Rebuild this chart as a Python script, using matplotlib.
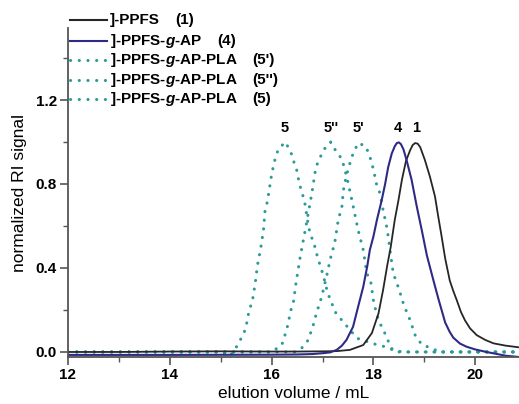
import numpy as np
import matplotlib.pyplot as plt
from matplotlib.ticker import MultipleLocator
from matplotlib.lines import Line2D

plt.rcParams['font.family'] = 'Liberation Sans'
plt.rcParams['mathtext.fontset'] = 'custom'
plt.rcParams['mathtext.rm'] = 'Liberation Sans:bold'
plt.rcParams['mathtext.it'] = 'Liberation Sans:bold:italic'

# curve 1: ]-PPFS
x1 = [12, 13, 14, 15, 16, 16.5, 17, 17.28, 17.54, 17.80, 17.97, 18.10, 18.19, 18.27, 18.34,
      18.42, 18.49, 18.56, 18.64, 18.72, 18.77, 18.82, 18.87, 18.92, 19.01, 19.11, 19.21,
      19.27, 19.34, 19.41, 19.50, 19.57, 19.64, 19.72, 19.80, 19.90, 20.03, 20.20, 20.36,
      20.60, 20.86]
y1 = [0.0, 0.0, 0.002, 0.003, 0.002, 0.002, 0.003, 0.004, 0.01, 0.033, 0.09, 0.184, 0.295,
      0.41, 0.50, 0.63, 0.72, 0.82, 0.91, 0.96, 0.985, 0.995, 0.992, 0.975, 0.915, 0.835,
      0.74, 0.65, 0.55, 0.445, 0.34, 0.29, 0.245, 0.19, 0.15, 0.112, 0.08, 0.057, 0.041,
      0.030, 0.022]

# curve 4: ]-PPFS-g-AP
x4 = [12, 14, 16, 16.5, 16.8, 17.0, 17.15, 17.28, 17.38, 17.47, 17.60, 17.70, 17.80, 17.88,
      17.93, 18.00, 18.07, 18.16, 18.23, 18.29, 18.36, 18.42, 18.46, 18.50, 18.54, 18.59,
      18.65, 18.75, 18.85, 18.95, 19.05, 19.18, 19.28, 19.41, 19.50, 19.57, 19.70, 19.83,
      20.00, 20.22, 20.60, 20.86]
y4 = [-0.014, -0.014, -0.013, -0.012, -0.01, -0.006, -0.002, 0.01, 0.03, 0.057, 0.12, 0.216,
      0.31, 0.41, 0.486, 0.55, 0.63, 0.72, 0.80, 0.88, 0.945, 0.98, 0.995, 0.998, 0.99,
      0.965, 0.915, 0.82, 0.695, 0.58, 0.46, 0.34, 0.25, 0.14, 0.095, 0.068, 0.04, 0.025,
      0.012, 0.0, -0.018, -0.024]

# curve 5': ]-PPFS-g-AP-PLA
x5a = [12, 14, 16.0, 16.45, 16.59, 16.72, 16.83, 16.88, 16.98, 17.08, 17.15, 17.24, 17.31,
       17.38, 17.41, 17.47, 17.54, 17.60, 17.70, 17.85, 17.93, 18.00, 18.06, 18.13, 18.19,
       18.26, 18.29, 18.34, 18.39, 18.46, 18.51, 18.56, 18.62, 18.72, 18.82, 18.95, 19.14,
       19.3, 20, 20.86]
y5a = [0, 0, 0, 0.0, 0.018, 0.057, 0.137, 0.184, 0.26, 0.36, 0.44, 0.52, 0.63, 0.69, 0.77,
       0.84, 0.90, 0.945, 0.995, 0.98, 0.93, 0.87, 0.80, 0.755, 0.676, 0.597, 0.55, 0.46,
       0.375, 0.327, 0.295, 0.25, 0.21, 0.152, 0.08, 0.035, 0.018, 0, 0, 0]

# curve 5'': ]-PPFS-g-AP-PLA
x5b = [12, 14, 16.0, 16.20, 16.30, 16.38, 16.43, 16.48, 16.56, 16.66, 16.79, 16.87, 16.94,
       17.03, 17.16, 17.28, 17.38, 17.43, 17.48, 17.58, 17.70, 17.80, 17.87, 17.95, 18.01,
       18.10, 18.19, 18.26, 18.33, 18.42, 19, 20, 20.86]
y5b = [0, 0, 0, 0.033, 0.11, 0.20, 0.24, 0.33, 0.45, 0.58, 0.755, 0.88, 0.92, 0.965, 1.0,
       0.95, 0.92, 0.875, 0.83, 0.72, 0.58, 0.486, 0.375, 0.33, 0.23, 0.152, 0.105, 0.073,
       0.025, 0.0, 0, 0, 0]

# curve 5: ]-PPFS-g-AP-PLA
x5 = [12, 13, 14, 15, 15.18, 15.30, 15.42, 15.49, 15.56, 15.62, 15.68, 15.72, 15.79, 15.84,
      15.87, 15.92, 15.99, 16.03, 16.07, 16.13, 16.27, 16.38, 16.43, 16.49, 16.53, 16.57,
      16.62, 16.66, 16.71, 16.75, 16.84, 16.91, 16.97, 17.02, 17.07, 17.12, 17.25, 17.40,
      17.54, 17.68, 17.87, 18.06, 18.23, 18.42, 18.6, 19, 19.5, 20, 20.5, 20.86]
y5 = [0, 0, 0, 0, -0.02, 0.02, 0.073, 0.11, 0.20, 0.24, 0.33, 0.41, 0.50, 0.58, 0.67, 0.72,
      0.83, 0.88, 0.92, 0.965, 1.0, 0.95, 0.91, 0.87, 0.82, 0.78, 0.74, 0.70, 0.62, 0.57,
      0.51, 0.445, 0.40, 0.36, 0.31, 0.27, 0.19, 0.145, 0.105, 0.065, 0.05, 0.035, 0.025,
      0.006, 0, 0, 0, 0, 0, 0]

peak_labels = ['5', "5''", "5'", '4', '1']
peak_x = [16.26, 17.17, 17.70, 18.48, 18.84]

legend_names = [']-PPFS', r']-PPFS-$\mathit{g}$-AP', r']-PPFS-$\mathit{g}$-AP-PLA',
                r']-PPFS-$\mathit{g}$-AP-PLA', r']-PPFS-$\mathit{g}$-AP-PLA']
legend_tags = ['(1)', '(4)', "(5')", "(5'')", '(5)']

black = '#262626'
blue = '#2e2a86'
teal = '#2a9a9a'

W, H = 519, 404
fig = plt.figure(figsize=(W / 100, H / 100), dpi=100)
ax = fig.add_axes([68 / W, 1 - 357 / H, (W - 68) / W, (357 - 28) / H])

dots = (0, (0.05, 2.8))
dot_kw = dict(color=teal, lw=2.2, ls=dots, dash_capstyle='round')
ax.plot(x5, y5, **dot_kw)
ax.plot(x5b, y5b, **dot_kw)
ax.plot(x5a, y5a, **dot_kw)
ax.plot(x1, y1, color=black, lw=1.3)
ax.plot(x4, y4, color=blue, lw=1.5)

for lab, px in zip(peak_labels, peak_x):
    ax.text(px, 1.035, lab, ha='center', va='bottom', fontsize=10.5, fontweight='bold')

ax.set_xlim(12, 20.86)
ax.set_ylim(-0.024, 1.543)
ax.set_xticks([12, 14, 16, 18, 20])
ax.set_yticks([0.0, 0.4, 0.8, 1.2])
ax.set_yticklabels(['0.0', '0.4', '0.8', '1.2'])
ax.xaxis.set_minor_locator(MultipleLocator(1))
ax.yaxis.set_minor_locator(MultipleLocator(0.2))
for s in ['top', 'right']:
    ax.spines[s].set_visible(False)
for s in ['left', 'bottom']:
    ax.spines[s].set_color('#555555')
    ax.spines[s].set_linewidth(1.3)
ax.tick_params(which='major', direction='out', length=6, width=1.2, color='#555555',
               labelsize=11, pad=2)
ax.tick_params(which='minor', direction='out', length=3.5, width=1.0, color='#555555')
for t in ax.get_xticklabels() + ax.get_yticklabels():
    t.set_fontweight('bold')

ax.set_xlabel('elution volume / mL', fontsize=12.5, labelpad=3)
ax.set_ylabel('normalized RI signal', fontsize=12.5, labelpad=6)

# legend drawn by hand
handles = [(black, '-'), (blue, '-'), (teal, dots), (teal, dots), (teal, dots)]
rows = [20, 41, 60, 80, 99]
tag_x = [175, 217, 252, 252, 252]
for (c, ls), yy, name, tag, tx in zip(handles, rows, legend_names, legend_tags, tag_x):
    fy = 1 - yy / H
    lw = 2.2 if c == teal else 1.5
    fig.add_artist(Line2D([70 / W, 107 / W], [fy, fy], color=c, ls=ls, lw=lw,
                          dash_capstyle='round'))
    fig.text(110 / W, fy, name, ha='left', va='center', fontsize=11, fontweight='bold')
    fig.text(tx / W, fy, tag, ha='left', va='center', fontsize=11, fontweight='bold')

fig.savefig('out.png', dpi=100)
